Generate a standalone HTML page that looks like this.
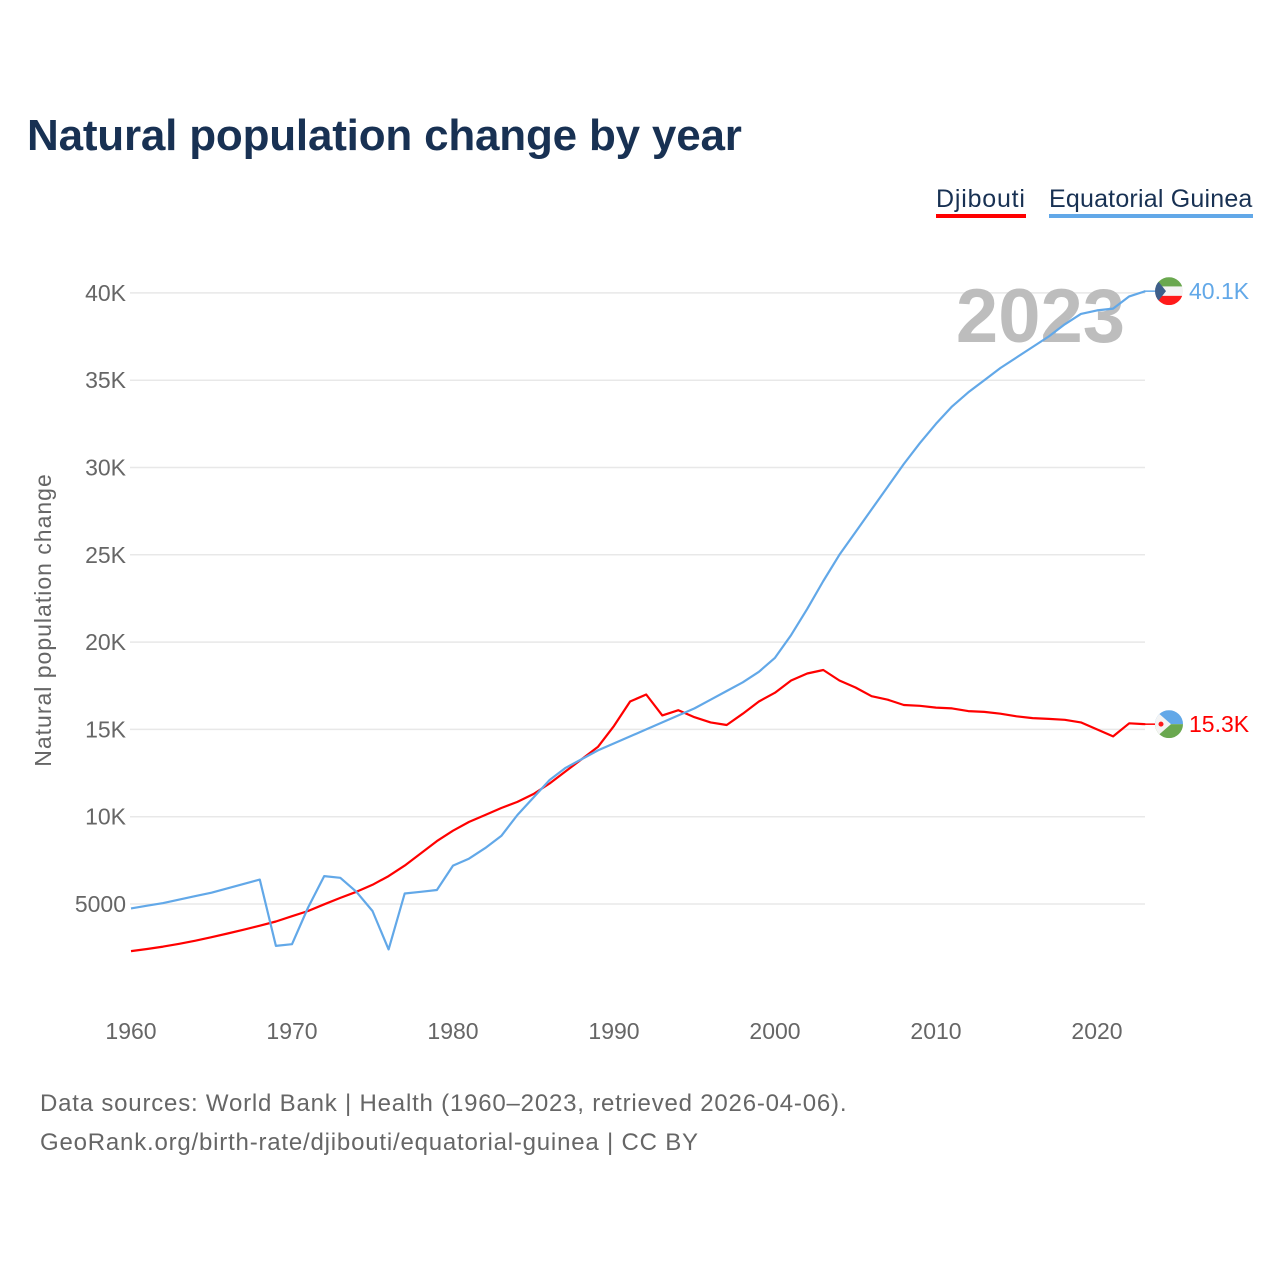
<!DOCTYPE html>
<html><head><meta charset="utf-8"><style>
body{margin:0;background:#fff;font-family:"Liberation Sans",sans-serif}
#wrap{position:relative;width:1280px;height:1280px;overflow:hidden}
.t{position:absolute;white-space:nowrap}
</style></head><body>
<div id="wrap">
<div class="t" style="left:27px;top:111px;font-size:44px;font-weight:bold;color:#183153;letter-spacing:-0.2px">Natural population change by year</div>
<div class="t" style="left:936px;top:184px;font-size:25px;color:#183153;border-bottom:4px solid #ff0000;line-height:30px;letter-spacing:0.8px">Djibouti</div>
<div class="t" style="left:1049px;top:184px;font-size:25px;color:#183153;border-bottom:4px solid #62a8e8;line-height:30px;letter-spacing:0.2px">Equatorial Guinea</div>
<div class="t" style="left:40px;top:1084px;font-size:24px;color:#666;line-height:39px;letter-spacing:0.8px">Data sources: World Bank | Health (1960–2023, retrieved 2026-04-06).<br>GeoRank.org/birth-rate/djibouti/equatorial-guinea | CC BY</div>
<svg id="chart" width="1280" height="1280" style="position:absolute;left:0;top:0"></svg>
</div>
<script>
const years=[];for(let y=1960;y<=2023;y++)years.push(y);
const djibouti=[2300,2420,2560,2720,2900,3100,3310,3530,3760,4000,4300,4600,4980,5350,5700,6100,6600,7200,7900,8600,9200,9700,10100,10500,10850,11300,11900,12600,13300,14000,15200,16600,17000,15800,16100,15700,15400,15250,15900,16600,17100,17800,18200,18400,17800,17400,16900,16700,16400,16350,16250,16200,16050,16000,15900,15750,15650,15600,15550,15400,15000,14600,15350,15300];
const eqGuinea=[4750,4900,5050,5250,5450,5650,5900,6150,6400,2600,2700,4800,6600,6500,5700,4600,2400,5600,5700,5800,7200,7600,8200,8900,10100,11100,12100,12800,13300,13800,14200,14600,15000,15400,15800,16200,16700,17200,17700,18300,19100,20400,21900,23500,25000,26300,27600,28900,30200,31400,32500,33500,34300,35000,35700,36300,36900,37500,38200,38800,39000,39100,39800,40100];
const yTicks=[5000,10000,15000,20000,25000,30000,35000,40000];
const yTickLabels=["5000","10K","15K","20K","25K","30K","35K","40K"];
const xTicks=[1960,1970,1980,1990,2000,2010,2020];
const NS='http://www.w3.org/2000/svg';
const svg=document.getElementById('chart');
const X=v=>131+(v-1960)*16.1;
const Y=v=>991.3-v*0.01746;
function mk(tag,attrs,parent){const e=document.createElementNS(NS,tag);for(const k in attrs)e.setAttribute(k,attrs[k]);(parent||svg).appendChild(e);return e;}
yTicks.forEach((t,i)=>{
  const l=mk('line',{x1:130,x2:1145,y1:Y(t),y2:Y(t),stroke:'#e8e8e8','stroke-width':1.5});
  
  
  const tx=mk('text',{x:126,y:Y(t)+8,'text-anchor':'end','font-size':23,fill:'#666','font-family':'Liberation Sans, sans-serif'});
  tx.textContent=yTickLabels[i];
  
  
});
xTicks.forEach(t=>{
  const tx=mk('text',{x:X(t),y:1039,'text-anchor':'middle','font-size':23,fill:'#666','font-family':'Liberation Sans, sans-serif'});
  tx.textContent=String(t);
  
  
});
const yt=mk('text',{x:0,y:0,transform:'translate(51,620) rotate(-90)','text-anchor':'middle','font-size':23,'letter-spacing':'1',fill:'#666','font-family':'Liberation Sans, sans-serif'});
yt.textContent='Natural population change';


const yr=mk('text',{x:1125,y:342,'text-anchor':'end','font-size':76,'font-weight':'bold',fill:'#bdbdbd','font-family':'Liberation Sans, sans-serif'});
yr.textContent='2023';


function series(vals,color,name){
  const d=vals.map((v,i)=>(i?'L':'M')+X(years[i]).toFixed(1)+' '+Y(v).toFixed(1)).join(' ');
  const p=mk('path',{d:d,fill:'none',stroke:color,'stroke-width':2.2,'stroke-linejoin':'round'});
  
  
}
series(djibouti,'#ff0000','djibouti');
series(eqGuinea,'#62a8e8','equatorial-guinea');
function endLabel(v,color,name,flag){
  const y=Y(v);
  mk('line',{x1:1145,x2:1160,y1:y,y2:y,stroke:color,'stroke-width':1.5});
  const g=mk('g',{});
  
  
  flag(g,1169,y);
  const t=mk('text',{x:1189,y:y+8,'font-size':23,fill:color,'font-family':'Liberation Sans, sans-serif'});
  t.textContent=(v/1000).toFixed(1)+'K';
  
  
}
endLabel(eqGuinea[eqGuinea.length-1],'#62a8e8','equatorial-guinea',(g,cx,cy)=>{
  const c=mk('clipPath',{id:'cg'},g);mk('circle',{cx:cx,cy:cy,r:14},c);
  const h=mk('g',{'clip-path':'url(#cg)'},g);
  mk('rect',{x:cx-14,y:cy-14,width:28,height:9.3,fill:'#6aa84f'},h);
  mk('rect',{x:cx-14,y:cy-4.7,width:28,height:9.4,fill:'#f4f4f4'},h);
  mk('rect',{x:cx-14,y:cy+4.7,width:28,height:9.3,fill:'#ff1a1a'},h);
  mk('polygon',{points:(cx-14)+','+(cy-14)+' '+(cx-3)+','+cy+' '+(cx-14)+','+(cy+14),fill:'#3e5f8a'},h);
});
endLabel(djibouti[djibouti.length-1],'#ff0000','djibouti',(g,cx,cy)=>{
  const c=mk('clipPath',{id:'cd'},g);mk('circle',{cx:cx,cy:cy,r:14},c);
  const h=mk('g',{'clip-path':'url(#cd)'},g);
  mk('rect',{x:cx-14,y:cy-14,width:28,height:14,fill:'#62a8e8'},h);
  mk('rect',{x:cx-14,y:cy,width:28,height:14,fill:'#6aa84f'},h);
  mk('polygon',{points:(cx-14)+','+(cy-14)+' '+(cx+2)+','+cy+' '+(cx-14)+','+(cy+14),fill:'#f4f4f4'},h);
  mk('circle',{cx:cx-8,cy:cy,r:2.5,fill:'#ff1a1a'},h);
});
</script>
</body></html>
